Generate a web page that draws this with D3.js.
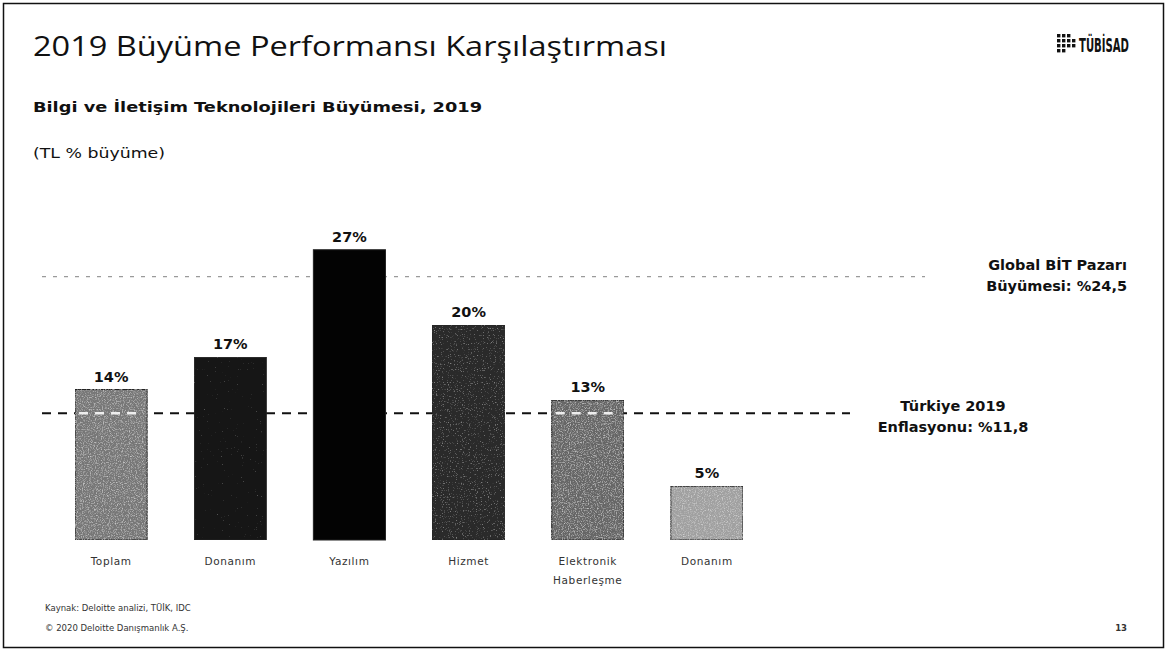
<!DOCTYPE html>
<html lang="tr">
<head>
<meta charset="utf-8">
<script src="https://cdn.jsdelivr.net/npm/d3@7"></script>
<style>
  html, body { margin: 0; padding: 0; background: #fff; }
  svg { display: block; }
</style>
</head>
<body>
<svg id="chart" width="1167" height="652"></svg>
<script>
// Growth by segment, 2019 (TL % growth)
const categories = ["Toplam", "Donanım", "Yazılım", "Hizmet", "Elektronik\nHaberleşme", "Donanım"];
const growth = [14, 17, 27, 20, 13, 5];
const barFills = ["#777777", "#141414", "#030303", "#2a2a2a", "#666666", "#a0a0a0"];
const barGrain = ["strong", "faint", null, "soft", "strong", "strong"];

// Reference lines
const inflation = 11.8;
const globalMarket = 24.5;

const svg = d3.select("#chart");
const W = 1167, H = 652;

// slide frame
svg.append("rect")
  .attr("x", 3.5).attr("y", 3.5)
  .attr("width", W - 7).attr("height", H - 8)
  .attr("fill", "#fff").attr("stroke", "#111").attr("stroke-width", 1.5);

// grain textures for the printed-looking bars
const defs = svg.append("defs");
function makeGrain(id, gain, offset, seed) {
  const f = defs.append("filter").attr("id", id)
    .attr("x", 0).attr("y", 0).attr("width", 1).attr("height", 1);
  f.append("feTurbulence").attr("type", "fractalNoise")
    .attr("baseFrequency", 0.85).attr("numOctaves", 2).attr("seed", seed).attr("result", "noise");
  f.append("feColorMatrix").attr("in", "noise").attr("type", "matrix")
    .attr("values", `0 0 0 0 0.85  0 0 0 0 0.85  0 0 0 0 0.85  0 0 0 ${gain} ${offset}`)
    .attr("result", "specks");
  f.append("feComposite").attr("in", "specks").attr("in2", "SourceGraphic")
    .attr("operator", "in").attr("result", "clipped");
  const m = f.append("feMerge");
  m.append("feMergeNode").attr("in", "SourceGraphic");
  m.append("feMergeNode").attr("in", "clipped");
}
makeGrain("grain-strong", 1.5, -0.72, 4);
makeGrain("grain-soft", 1.0, -0.62, 7);
makeGrain("grain-faint", 0.7, -0.52, 9);

// headings
svg.append("text")
  .attr("x", 33).attr("y", 56)
  .attr("font-family", "'Open Sans', 'DejaVu Sans', sans-serif")
  .attr("font-size", 27).attr("fill", "#111")
  .attr("textLength", 634).attr("lengthAdjust", "spacingAndGlyphs")
  .text("2019 Büyüme Performansı Karşılaştırması");

svg.append("text")
  .attr("x", 33).attr("y", 112)
  .attr("font-family", "'DejaVu Sans', sans-serif")
  .attr("font-weight", "bold").attr("font-size", 14.5).attr("fill", "#111")
  .attr("textLength", 449).attr("lengthAdjust", "spacingAndGlyphs")
  .text("Bilgi ve İletişim Teknolojileri Büyümesi, 2019");

svg.append("text")
  .attr("x", 33).attr("y", 158)
  .attr("font-family", "'DejaVu Sans', sans-serif")
  .attr("font-size", 14).attr("fill", "#111")
  .attr("textLength", 132).attr("lengthAdjust", "spacingAndGlyphs")
  .text("(TL % büyüme)");

// logo
const logo = svg.append("g").attr("transform", "translate(1057,34)");
const dots = [[0,0],[5,0],[10,0],[0,5],[5,5],[10,5],[15,5],[0,10],[5,10],[10,10],[15,10],[0,15],[5,15]];
logo.selectAll("rect").data(dots).join("rect")
  .attr("x", d => d[0]).attr("y", d => d[1])
  .attr("width", 3.4).attr("height", 3.4).attr("fill", "#111");
logo.append("text")
  .attr("x", 22).attr("y", 18)
  .attr("font-family", "'DejaVu Sans Condensed', 'DejaVu Sans', sans-serif")
  .attr("font-weight", "bold").attr("font-size", 19).attr("fill", "#111")
  .attr("textLength", 50).attr("lengthAdjust", "spacingAndGlyphs")
  .text("TÜBİSAD");

// scales
const x = d3.scaleBand()
  .domain(d3.range(categories.length))
  .range([51.5, 766.5])
  .paddingInner(0.395)
  .paddingOuter(0.1975);

const y = d3.scaleLinear().domain([0, 30]).range([540, 217.5]);

// global market growth: dotted gray line
svg.append("line")
  .attr("x1", 42).attr("x2", 925)
  .attr("y1", y(globalMarket)).attr("y2", y(globalMarket))
  .attr("stroke", "#9a9a9a").attr("stroke-width", 1.2)
  .attr("stroke-dasharray", "4,7");

// Turkish inflation: dashed black line
svg.append("line")
  .attr("x1", 42).attr("x2", 850)
  .attr("y1", y(inflation)).attr("y2", y(inflation))
  .attr("stroke", "#111").attr("stroke-width", 2)
  .attr("stroke-dasharray", "9,7");

// bars
svg.append("g").selectAll("rect")
  .data(growth)
  .join("rect")
  .attr("x", (d, i) => x(i))
  .attr("y", d => y(d))
  .attr("width", x.bandwidth())
  .attr("height", d => y(0) - y(d))
  .attr("fill", (d, i) => barFills[i])
  .attr("stroke", "#222").attr("stroke-width", 1)
  .attr("filter", (d, i) => barGrain[i] ? `url(#grain-${barGrain[i]})` : null);

// inflation line showing through the lighter bars
const lightBars = growth.map((d, i) => i).filter(i => i === 0 || i === 4);
svg.append("g").selectAll("line")
  .data(lightBars)
  .join("line")
  .attr("x1", i => x(i) + 4).attr("x2", i => x(i) + x.bandwidth() - 4)
  .attr("y1", y(inflation)).attr("y2", y(inflation))
  .attr("stroke", "#eeeeee").attr("stroke-width", 2.5)
  .attr("stroke-dasharray", "9,7");

// value labels
svg.append("g").selectAll("text")
  .data(growth)
  .join("text")
  .attr("x", (d, i) => x(i) + x.bandwidth() / 2)
  .attr("y", d => y(d) - 8)
  .attr("text-anchor", "middle")
  .attr("font-family", "'DejaVu Sans', sans-serif")
  .attr("font-weight", "bold").attr("font-size", 14.5).attr("fill", "#111")
  .text(d => d + "%");

// category axis
const axis = svg.append("g")
  .attr("transform", `translate(0,${y(0)})`)
  .call(d3.axisBottom(x).tickSize(0).tickFormat(""));
axis.select(".domain").remove();
axis.selectAll(".tick").each(function(i) {
  const t = d3.select(this).append("text")
    .attr("y", 25)
    .attr("text-anchor", "middle")
    .attr("font-family", "'DejaVu Sans', sans-serif")
    .attr("font-size", 10.5).attr("fill", "#333")
    .attr("letter-spacing", 0.6);
  categories[i].split("\n").forEach((line, k) => {
    t.append("tspan").attr("x", 0).attr("dy", k === 0 ? 0 : 19).text(line);
  });
});

// annotations for the reference lines
const note = (xPos, yPos, anchor, lines) => {
  const t = svg.append("text")
    .attr("x", xPos).attr("y", yPos)
    .attr("text-anchor", anchor)
    .attr("font-family", "'DejaVu Sans', sans-serif")
    .attr("font-weight", "bold").attr("font-size", 14.5).attr("fill", "#111");
  lines.forEach((l, k) => t.append("tspan").attr("x", xPos).attr("dy", k === 0 ? 0 : 21).text(l));
};
note(1127, 270, "end", ["Global BİT Pazarı", "Büyümesi: %" + String(globalMarket).replace(".", ",")]);
note(953, 411, "middle", ["Türkiye 2019", "Enflasyonu: %" + String(inflation).replace(".", ",")]);

// footer
const foot = svg.append("g")
  .attr("font-family", "'DejaVu Sans', sans-serif")
  .attr("font-size", 8.5).attr("fill", "#333");
foot.append("text").attr("x", 45).attr("y", 611).text("Kaynak: Deloitte analizi, TÜİK, IDC");
foot.append("text").attr("x", 45).attr("y", 631).text("© 2020 Deloitte Danışmanlık A.Ş.");
foot.append("text").attr("x", 1127).attr("y", 631).attr("text-anchor", "end").attr("font-weight", "bold").text("13");
</script>
</body>
</html>
